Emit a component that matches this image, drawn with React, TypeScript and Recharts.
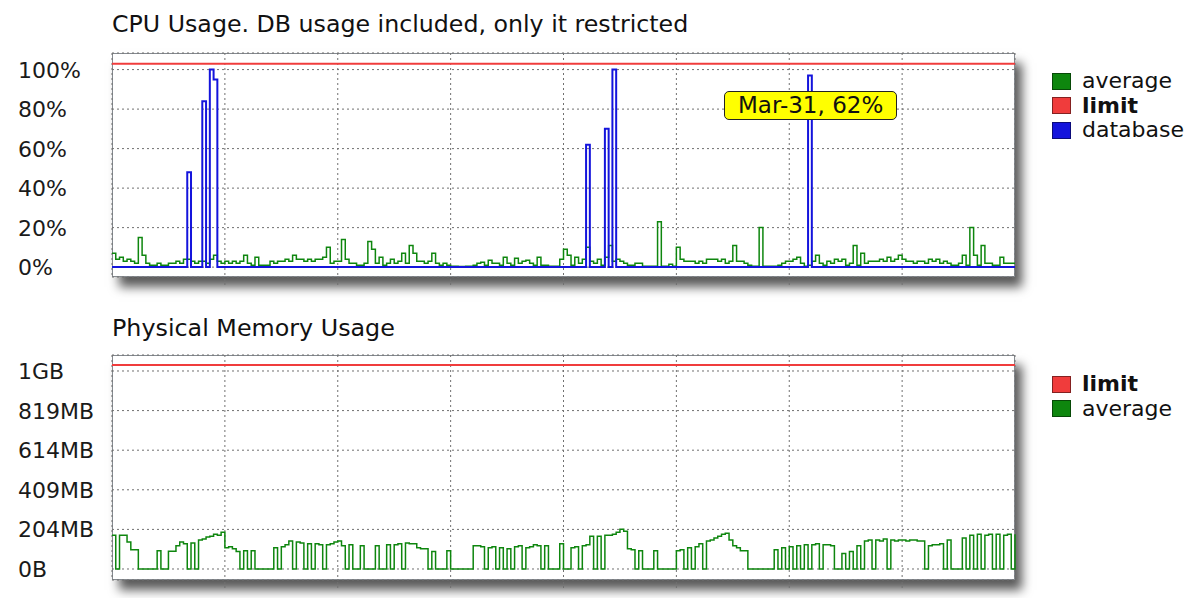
import React from 'react';
import { LineChart, Line, XAxis, YAxis, CartesianGrid, Tooltip, Legend } from 'recharts';

const FONT = '"DejaVu Sans", Verdana, sans-serif';

const days = ['Mar-25', 'Mar-26', 'Mar-27', 'Mar-28', 'Mar-29', 'Mar-30', 'Mar-31', 'Apr-01'];
const pointsPerDay = 30;

// CPU average (%), 30 points per day, plus one closing point
const cpuAverage = [
  7, 4, 5, 3, 4, 3, 2, 15, 6, 2, 1, 1, 2, 1, 1, 2, 2, 3, 2, 4, 4, 3, 2, 3, 3, 2, 4, 6, 3, 2,
  3, 2, 3, 2, 3, 6, 2, 1, 5, 1, 1, 1, 3, 2, 3, 3, 4, 3, 6, 4, 4, 3, 4, 3, 4, 4, 5, 10, 2, 3,
  3, 14, 4, 2, 2, 1, 1, 2, 13, 9, 2, 5, 1, 2, 4, 2, 3, 7, 2, 11, 7, 3, 3, 2, 3, 7, 2, 1, 2, 1,
  0.5, 0.5, 0.3, 0.3, 0.5, 0.5, 1, 2, 2.5, 1, 3.5, 2, 2, 1, 5, 2, 1, 4.5, 2, 3, 3.5, 2, 1, 5, 1, 1, 0.5, 0.5, 0.5, 4,
  9, 6, 1, 5, 2, 4, 10, 3, 2, 4, 1, 5, 11, 3, 4, 3, 2, 1, 1, 2, 2, 0.5, 0.5, 0.5, 0.5, 23, 0.5, 0.5, 1.5, 0.5,
  10, 4, 3, 3, 3, 2, 3, 2, 4, 4, 4, 3, 4, 2, 3, 11, 3, 3, 2, 1, 0.5, 0.5, 20, 0.5, 0.5, 0.5, 0.5, 1, 2, 3,
  3, 4, 5, 2, 0.5, 1, 3, 6, 2, 1, 3, 2, 4, 3, 4, 1, 2, 11, 1, 7, 2, 3, 3, 3, 4, 3, 5, 3, 4, 6,
  4, 3, 3, 2, 3, 3, 2, 4, 3, 4, 2, 3, 2, 1, 1, 2, 6, 1, 20, 6, 1, 11, 2, 2, 1, 1, 5, 2, 2, 2,
  2,
];

// CPU database (%)
const cpuDatabase = [
  0, 0, 0, 0, 0, 0, 0, 0, 0, 0, 0, 0, 0, 0, 0, 0, 0, 0, 0, 0, 48, 0, 0, 0, 84, 0, 100, 95, 0, 0,
  0, 0, 0, 0, 0, 0, 0, 0, 0, 0, 0, 0, 0, 0, 0, 0, 0, 0, 0, 0, 0, 0, 0, 0, 0, 0, 0, 0, 0, 0,
  0, 0, 0, 0, 0, 0, 0, 0, 0, 0, 0, 0, 0, 0, 0, 0, 0, 0, 0, 0, 0, 0, 0, 0, 0, 0, 0, 0, 0, 0,
  0, 0, 0, 0, 0, 0, 0, 0, 0, 0, 0, 0, 0, 0, 0, 0, 0, 0, 0, 0, 0, 0, 0, 0, 0, 0, 0, 0, 0, 0,
  0, 0, 0, 0, 0, 0, 62, 0, 0, 0, 0, 70, 0, 100, 0, 0, 0, 0, 0, 0, 0, 0, 0, 0, 0, 0, 0, 0, 0, 0,
  0, 0, 0, 0, 0, 0, 0, 0, 0, 0, 0, 0, 0, 0, 0, 0, 0, 0, 0, 0, 0, 0, 0, 0, 0, 0, 0, 0, 0, 0,
  0, 0, 0, 0, 0, 97, 0, 0, 0, 0, 0, 0, 0, 0, 0, 0, 0, 0, 0, 0, 0, 0, 0, 0, 0, 0, 0, 0, 0, 0,
  0, 0, 0, 0, 0, 0, 0, 0, 0, 0, 0, 0, 0, 0, 0, 0, 0, 0, 0, 0, 0, 0, 0, 0, 0, 0, 0, 0, 0, 0,
  0,
];

const cpuLimit = 103;
const cpuTicks = [0, 20, 40, 60, 80, 100];

// Physical memory average (MB)
const memAverage = [
  175, 0, 175, 175, 140, 100, 100, 0, 0, 0, 0, 0, 95, 0, 0, 92, 92, 120, 140, 130, 0, 135, 0, 150, 155, 165, 170, 180, 175, 190,
  110, 115, 105, 90, 0, 95, 0, 95, 0, 0, 0, 0, 0, 110, 0, 115, 125, 145, 0, 140, 135, 0, 130, 0, 130, 125, 0, 125, 130, 140,
  145, 120, 0, 125, 0, 0, 120, 0, 0, 0, 120, 0, 0, 125, 0, 125, 130, 0, 135, 130, 130, 110, 105, 105, 0, 90, 0, 0, 0, 95,
  0, 0, 0, 0, 0, 0, 120, 120, 115, 0, 110, 115, 0, 110, 0, 105, 0, 115, 120, 0, 110, 115, 125, 120, 0, 120, 0, 0, 0, 130,
  0, 0, 110, 115, 0, 120, 125, 170, 0, 170, 0, 175, 175, 180, 190, 205, 195, 105, 100, 0, 95, 0, 0, 0, 95, 0, 0, 0, 0, 0,
  95, 100, 0, 110, 0, 115, 130, 0, 145, 150, 160, 170, 180, 185, 150, 120, 110, 95, 95, 0, 0, 0, 0, 0, 0, 0, 100, 0, 110, 0,
  115, 0, 120, 0, 125, 0, 125, 130, 0, 125, 125, 120, 0, 0, 80, 0, 90, 0, 120, 0, 145, 150, 0, 150, 145, 155, 0, 150, 145, 150,
  150, 145, 150, 150, 145, 145, 0, 120, 125, 125, 130, 0, 150, 0, 0, 0, 160, 0, 175, 0, 180, 0, 175, 180, 0, 180, 0, 175, 180, 0,
  180,
];

const memLimit = 1055;
const memTicks = [0, 204.8, 409.6, 614.4, 819.2, 1024];
const memTickLabels = ['0B', '204MB', '409MB', '614MB', '819MB', '1GB'];

const tooltipIndex = 185;
const tooltipValue = 62;

const GREEN = '#0e860e';
const RED = '#f03c3c';
const BLUE = '#1414dc';

const cpuRows = cpuAverage.map((v, i) => ({ i, average: v, database: cpuDatabase[i], limit: cpuLimit }));
const memRows = memAverage.map((v, i) => ({ i, average: v, limit: memLimit }));
const dayTicks = days.slice(1).map((_, k) => (k + 1) * pointsPerDay);
const lastIndex = days.length * pointsPerDay;

const LeftTick = (props: any) => {
  const { y, payload, fmt } = props;
  return (
    <text x={18} y={y} dy="0.36em" fontSize={22} fontFamily={FONT} fill="#1a1a1a" textAnchor="start">
      {fmt(payload.value)}
    </text>
  );
};

const EmptyTick = () => <g />;

const makeLegend = (order: string[]) => (props: any) => {
  const payload: any[] = props.payload || [];
  const items = order.map((n) => payload.find((p) => p.value === n)).filter(Boolean);
  return (
    <div style={{ fontFamily: FONT, fontSize: 22, color: '#111' }}>
      {items.map((p: any) => (
        <div key={p.value} style={{ display: 'flex', alignItems: 'center', height: 24.5 }}>
          <span
            style={{
              display: 'inline-block',
              width: 19,
              height: 17,
              background: p.color,
              border: '1px solid rgba(0,0,0,0.45)',
              boxSizing: 'border-box',
              marginRight: 11,
            }}
          />
          <span style={{ fontWeight: p.value === 'limit' ? 'bold' : 'normal', lineHeight: '22px' }}>{p.value}</span>
        </div>
      ))}
    </div>
  );
};

const TipBox = () => (
  <div
    style={{
      background: '#ffff00',
      border: '1.5px solid #222',
      borderRadius: 5,
      padding: '0 13px',
      fontSize: 23,
      fontFamily: FONT,
      lineHeight: '27px',
      color: '#111',
      whiteSpace: 'nowrap',
    }}
  >
    {days[Math.floor(tooltipIndex / pointsPerDay)]}, {tooltipValue}%
  </div>
);

const plotBox = (top: number, height: number): React.CSSProperties => ({
  position: 'absolute',
  left: 112,
  top,
  width: 903,
  height,
  boxSizing: 'border-box',
  border: '1px solid #858a90',
  background: '#fff',
  boxShadow: '7px 10px 10px rgba(0,0,0,0.65)',
});

const titleStyle = (top: number, size: number): React.CSSProperties => ({
  position: 'absolute',
  left: 112,
  top,
  fontFamily: FONT,
  fontSize: size,
  lineHeight: `${size}px`,
  color: '#111',
  whiteSpace: 'nowrap',
});

export default function App() {
  return (
    <div style={{ position: 'absolute', left: 0, top: 0, width: 1194, height: 598, background: '#fff', overflow: 'hidden' }}>
      <div style={titleStyle(13, 23.7)}>CPU Usage. DB usage included, only it restricted</div>
      <div style={plotBox(53, 224)} />
      <div style={{ position: 'absolute', left: 0, top: 0 }}>
        <LineChart width={1194} height={300} data={cpuRows} margin={{ top: 53, right: 179, bottom: 0, left: 12 }}>
          <CartesianGrid stroke="#707070" strokeDasharray="2 3" />
          <XAxis
            dataKey="i"
            type="number"
            domain={[0, lastIndex]}
            ticks={dayTicks}
            height={23}
            axisLine={false}
            tick={<EmptyTick />}
            tickSize={8}
            tickLine={{ stroke: '#707070', strokeDasharray: '2 2' }}
          />
          <YAxis
            type="number"
            domain={[-5, 108.4]}
            ticks={cpuTicks}
            width={100}
            axisLine={false}
            tickLine={false}
            interval={0}
            tick={<LeftTick fmt={(v: number) => `${v}%`} />}
          />
          <Line type="stepAfter" dataKey="average" name="average" stroke={GREEN} strokeWidth={1.5} dot={false} activeDot={false} isAnimationActive={false} />
          <Line type="linear" dataKey="limit" name="limit" stroke={RED} strokeWidth={2} dot={false} activeDot={false} isAnimationActive={false} />
          <Line type="stepAfter" dataKey="database" name="database" stroke={BLUE} strokeWidth={2} dot={false} activeDot={false} isAnimationActive={false} />
          <Legend
            layout="vertical"
            align="center"
            verticalAlign="middle"
            wrapperStyle={{ left: 1052, top: 69, width: 140 }}
            content={makeLegend(['average', 'limit', 'database'])}
          />
          <Tooltip
            active
            defaultIndex={tooltipIndex}
            cursor={false}
            isAnimationActive={false}
            position={{ x: 724, y: 91 }}
            wrapperStyle={{ visibility: 'visible' }}
            content={() => <TipBox />}
          />
        </LineChart>
      </div>

      <div style={titleStyle(317, 23.8)}>Physical Memory Usage</div>
      <div style={plotBox(355, 225)} />
      <div style={{ position: 'absolute', left: 0, top: 300 }}>
        <LineChart width={1194} height={298} data={memRows} margin={{ top: 55, right: 179, bottom: 0, left: 12 }}>
          <CartesianGrid stroke="#707070" strokeDasharray="2 3" />
          <XAxis
            dataKey="i"
            type="number"
            domain={[0, lastIndex]}
            ticks={dayTicks}
            height={18}
            axisLine={false}
            tick={<EmptyTick />}
            tickSize={8}
            tickLine={{ stroke: '#707070', strokeDasharray: '2 2' }}
          />
          <YAxis
            type="number"
            domain={[-56.9, 1106.7]}
            ticks={memTicks}
            width={100}
            axisLine={false}
            tickLine={false}
            interval={0}
            tick={<LeftTick fmt={(v: number) => memTickLabels[memTicks.indexOf(v)]} />}
          />
          <Line type="linear" dataKey="limit" name="limit" stroke={RED} strokeWidth={2} dot={false} activeDot={false} isAnimationActive={false} />
          <Line type="stepAfter" dataKey="average" name="average" stroke={GREEN} strokeWidth={1.5} dot={false} activeDot={false} isAnimationActive={false} />
          <Legend
            layout="vertical"
            align="center"
            verticalAlign="middle"
            wrapperStyle={{ left: 1052, top: 72, width: 140 }}
            content={makeLegend(['limit', 'average'])}
          />
        </LineChart>
      </div>
    </div>
  );
}
